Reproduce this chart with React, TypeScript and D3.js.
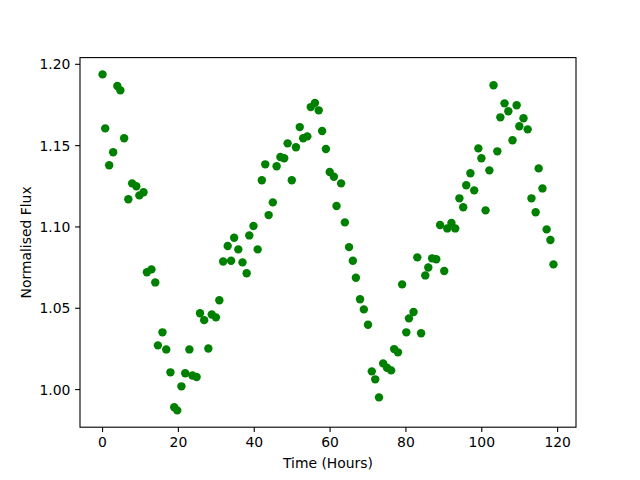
import React from "react";
import * as d3 from "d3";

// time in hours and normalised flux
const hours = [
  0.0, 0.7, 1.75, 2.8, 3.9, 4.7, 5.7, 6.8, 7.8, 8.9, 9.7, 10.8,
  11.7, 12.9, 13.9, 14.6, 15.8, 16.8, 17.9, 18.9, 19.7, 20.8, 21.8, 22.9,
  23.7, 24.8, 25.7, 26.8, 27.9, 28.8, 29.9, 30.8, 31.8, 33.0, 33.9, 34.7,
  35.8, 36.9, 38.0, 38.7, 39.8, 40.9, 42.0, 42.9, 43.8, 44.9, 45.9, 46.9,
  47.9, 48.8, 49.9, 51.0, 52.0, 52.9, 54.0, 54.9, 56.0, 57.0, 57.9, 58.9,
  59.9, 61.0, 61.7, 62.9, 63.9, 65.0, 66.0, 66.8, 67.9, 68.9, 70.0, 71.0,
  71.9, 72.9, 74.0, 75.0, 76.1, 76.9, 77.9, 79.0, 80.1, 80.8, 82.0, 83.0,
  84.0, 85.1, 85.9, 86.9, 88.0, 89.0, 90.1, 90.9, 92.0, 93.0, 94.1, 95.1,
  95.9, 97.0, 98.0, 99.1, 99.9, 101.0, 102.0, 103.1, 104.1, 104.9, 106.0, 107.0,
  108.1, 109.2, 109.9, 111.0, 112.1, 113.1, 114.2, 115.0, 116.0, 117.1, 118.1, 118.9,
];

const flux = [
  1.1938, 1.1606, 1.1379, 1.1459, 1.1867, 1.184, 1.1545, 1.117, 1.1268, 1.125, 1.1194, 1.1213,
  1.0721, 1.0739, 1.0659, 1.0272, 1.0352, 1.0247, 1.0106, 0.9891, 0.9872, 1.002, 1.01, 1.0247,
  1.0087, 1.0077, 1.0469, 1.0427, 1.0253, 1.0462, 1.0444, 1.0549, 1.0788, 1.0883, 1.0792, 1.0934,
  1.0862, 1.0782, 1.0715, 1.0948, 1.1006, 1.0862, 1.1287, 1.1385, 1.1073, 1.1151, 1.1373, 1.143,
  1.1422, 1.1514, 1.1287, 1.149, 1.1614, 1.1545, 1.1557, 1.1737, 1.1762, 1.1717, 1.159, 1.1479,
  1.1338, 1.1309, 1.1129, 1.1268, 1.1028, 1.0876, 1.0792, 1.0688, 1.0555, 1.0493, 1.0399, 1.0112,
  1.0063, 0.9952, 1.0161, 1.0134, 1.0118, 1.0249, 1.0229, 1.0647, 1.0352, 1.0438, 1.0477, 1.0813,
  1.0346, 1.0702, 1.0751, 1.0807, 1.0801, 1.1012, 1.0729, 1.0991, 1.1024, 1.0991, 1.1176, 1.1121,
  1.1256, 1.133, 1.1225, 1.1483, 1.1422, 1.1102, 1.1348, 1.1871, 1.1465, 1.1674, 1.176, 1.1711,
  1.1533, 1.1748, 1.1619, 1.1668, 1.16, 1.1176, 1.109, 1.136, 1.1237, 1.0985, 1.092, 1.077,
];

const xTicks = [0, 20, 40, 60, 80, 100, 120];
const yTicks = [1.0, 1.05, 1.1, 1.15, 1.2];

const W = 640;
const H = 480;
const left = 80, right = 576, top = 57.6, bottom = 427.2;
const font = "DejaVu Sans, sans-serif";

// matplotlib style 5% padding around the data
const pad = (ext: [number, number]) => {
  const d = (ext[1] - ext[0]) * 0.05;
  return [ext[0] - d, ext[1] + d];
};

export default function App() {
  const x = d3.scaleLinear().domain(pad(d3.extent(hours) as [number, number])).range([left, right]);
  const y = d3.scaleLinear().domain(pad(d3.extent(flux) as [number, number])).range([bottom, top]);
  const fmt = d3.format(".2f");

  return (
    <svg width={W} height={H} style={{ position: "absolute", left: 0, top: 0, background: "#fff" }}
      fontFamily={font} fontSize={13.9}>
      <rect x={0} y={0} width={W} height={H} fill="#fff" />
      {hours.map((h, i) => (
        <circle key={i} cx={x(h)} cy={y(flux[i])} r={4.2} fill="#008000" />
      ))}
      <rect x={left} y={top} width={right - left} height={bottom - top}
        fill="none" stroke="#000" strokeWidth={1.1} />
      {xTicks.map(t => (
        <g key={t} transform={`translate(${x(t)},${bottom})`}>
          <line y2={4.9} stroke="#000" strokeWidth={1.1} />
          <text y={20} textAnchor="middle" fill="#000">{t}</text>
        </g>
      ))}
      {yTicks.map(t => (
        <g key={t} transform={`translate(${left},${y(t)})`}>
          <line x2={-4.9} stroke="#000" strokeWidth={1.1} />
          <text x={-9.7} dy="0.36em" textAnchor="end" fill="#000">{fmt(t)}</text>
        </g>
      ))}
      <text x={(left + right) / 2} y={468} textAnchor="middle" fill="#000">Time (Hours)</text>
      <text transform={`translate(30.5,${(top + bottom) / 2}) rotate(-90)`} textAnchor="middle" fill="#000">
        Normalised Flux
      </text>
    </svg>
  );
}
